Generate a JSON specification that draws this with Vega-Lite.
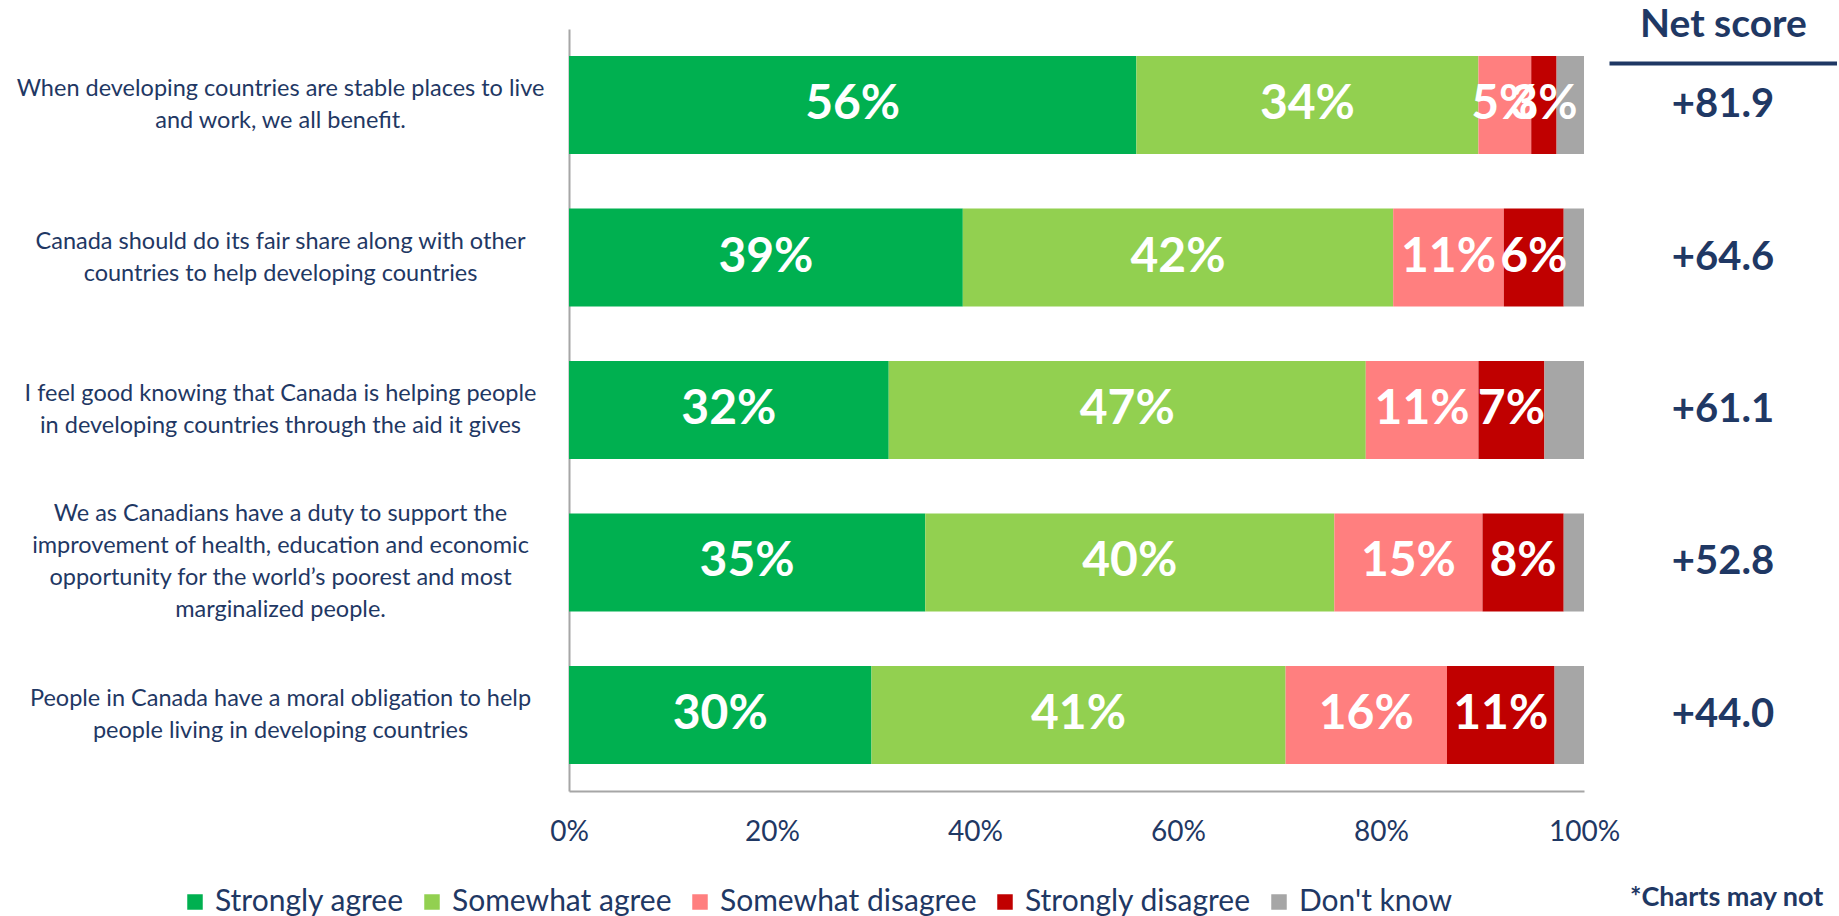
{
  "$schema": "https://vega.github.io/schema/vega-lite/v6.json",
  "background": "white",
  "padding": {"left": 16, "top": 5, "right": 0, "bottom": 0},
  "bounds": "flush",
  "config": {"view": {"stroke": null}, "font": "Lato", "concat": {"spacing": 25}},
  "datasets": {
    "bars": [
      {"q": "When developing countries are stable places to live|and work, we all benefit.", "cat": "Strongly agree", "order": 1, "value": 55.9, "label": "56%"},
      {"q": "When developing countries are stable places to live|and work, we all benefit.", "cat": "Somewhat agree", "order": 2, "value": 33.7, "label": "34%"},
      {"q": "When developing countries are stable places to live|and work, we all benefit.", "cat": "Somewhat disagree", "order": 3, "value": 5.2, "label": "5%"},
      {"q": "When developing countries are stable places to live|and work, we all benefit.", "cat": "Strongly disagree", "order": 4, "value": 2.5, "label": "3%"},
      {"q": "When developing countries are stable places to live|and work, we all benefit.", "cat": "Don't know", "order": 5, "value": 2.7, "label": ""},
      {"q": "Canada should do its fair share along with other|countries to help developing countries", "cat": "Strongly agree", "order": 1, "value": 38.8, "label": "39%"},
      {"q": "Canada should do its fair share along with other|countries to help developing countries", "cat": "Somewhat agree", "order": 2, "value": 42.4, "label": "42%"},
      {"q": "Canada should do its fair share along with other|countries to help developing countries", "cat": "Somewhat disagree", "order": 3, "value": 10.9, "label": "11%"},
      {"q": "Canada should do its fair share along with other|countries to help developing countries", "cat": "Strongly disagree", "order": 4, "value": 5.9, "label": "6%"},
      {"q": "Canada should do its fair share along with other|countries to help developing countries", "cat": "Don't know", "order": 5, "value": 2.0, "label": ""},
      {"q": "I feel good knowing that Canada is helping people|in developing countries through the aid it gives", "cat": "Strongly agree", "order": 1, "value": 31.5, "label": "32%"},
      {"q": "I feel good knowing that Canada is helping people|in developing countries through the aid it gives", "cat": "Somewhat agree", "order": 2, "value": 47.0, "label": "47%"},
      {"q": "I feel good knowing that Canada is helping people|in developing countries through the aid it gives", "cat": "Somewhat disagree", "order": 3, "value": 11.1, "label": "11%"},
      {"q": "I feel good knowing that Canada is helping people|in developing countries through the aid it gives", "cat": "Strongly disagree", "order": 4, "value": 6.5, "label": "7%"},
      {"q": "I feel good knowing that Canada is helping people|in developing countries through the aid it gives", "cat": "Don't know", "order": 5, "value": 3.9, "label": ""},
      {"q": "We as Canadians have a duty to support the|improvement of health, education and economic|opportunity for the world’s poorest and most|marginalized people.", "cat": "Strongly agree", "order": 1, "value": 35.1, "label": "35%"},
      {"q": "We as Canadians have a duty to support the|improvement of health, education and economic|opportunity for the world’s poorest and most|marginalized people.", "cat": "Somewhat agree", "order": 2, "value": 40.3, "label": "40%"},
      {"q": "We as Canadians have a duty to support the|improvement of health, education and economic|opportunity for the world’s poorest and most|marginalized people.", "cat": "Somewhat disagree", "order": 3, "value": 14.6, "label": "15%"},
      {"q": "We as Canadians have a duty to support the|improvement of health, education and economic|opportunity for the world’s poorest and most|marginalized people.", "cat": "Strongly disagree", "order": 4, "value": 8.0, "label": "8%"},
      {"q": "We as Canadians have a duty to support the|improvement of health, education and economic|opportunity for the world’s poorest and most|marginalized people.", "cat": "Don't know", "order": 5, "value": 2.0, "label": ""},
      {"q": "People in Canada have a moral obligation to help|people living in developing countries", "cat": "Strongly agree", "order": 1, "value": 29.8, "label": "30%"},
      {"q": "People in Canada have a moral obligation to help|people living in developing countries", "cat": "Somewhat agree", "order": 2, "value": 40.8, "label": "41%"},
      {"q": "People in Canada have a moral obligation to help|people living in developing countries", "cat": "Somewhat disagree", "order": 3, "value": 15.9, "label": "16%"},
      {"q": "People in Canada have a moral obligation to help|people living in developing countries", "cat": "Strongly disagree", "order": 4, "value": 10.6, "label": "11%"},
      {"q": "People in Canada have a moral obligation to help|people living in developing countries", "cat": "Don't know", "order": 5, "value": 2.9, "label": ""}
    ],
    "net": [
      {"q": "When developing countries are stable places to live|and work, we all benefit.", "score": "+81.9"},
      {"q": "Canada should do its fair share along with other|countries to help developing countries", "score": "+64.6"},
      {"q": "I feel good knowing that Canada is helping people|in developing countries through the aid it gives", "score": "+61.1"},
      {"q": "We as Canadians have a duty to support the|improvement of health, education and economic|opportunity for the world’s poorest and most|marginalized people.", "score": "+52.8"},
      {"q": "People in Canada have a moral obligation to help|people living in developing countries", "score": "+44.0"}
    ]
  },
  "hconcat": [
    {
      "width": 1015,
      "height": 762,
      "data": {"name": "bars"},
      "encoding": {
        "y": {
          "field": "q", "type": "nominal",
          "sort": [
            "When developing countries are stable places to live|and work, we all benefit.",
            "Canada should do its fair share along with other|countries to help developing countries",
            "I feel good knowing that Canada is helping people|in developing countries through the aid it gives",
            "We as Canadians have a duty to support the|improvement of health, education and economic|opportunity for the world’s poorest and most|marginalized people.",
            "People in Canada have a moral obligation to help|people living in developing countries"
          ],
          "scale": {"paddingInner": 0.357, "paddingOuter": 0.177},
          "axis": {
            "title": null, "ticks": false, "grid": false,
            "labelFontSize": 23.5, "labelColor": "#1F3864", "labelAlign": "center",
            "labelPadding": 289, "labelExpr": "split(datum.label, '|')",
            "labelLineHeight": 32, "labelBaseline": "middle", "labelLimit": 700,
            "labelOffset": {"condition": {"test": "indexof(datum.value, 'We as') == 0", "value": -48}, "value": -16},
            "domainColor": "#A6A6A6", "domainWidth": 2
          }
        }
      },
      "layer": [
        {
          "mark": {"type": "bar"},
          "encoding": {
            "x": {
              "field": "value", "type": "quantitative", "stack": "zero",
              "scale": {"domain": [0, 100]},
              "axis": {
                "values": [0, 20, 40, 60, 80, 100], "labelExpr": "datum.value + '%'",
                "labelFontSize": 28, "labelColor": "#1F3864", "labelPadding": 27,
                "ticks": false, "grid": false, "domainColor": "#A6A6A6", "domainWidth": 2,
                "title": null, "labelFlush": false
              }
            },
            "color": {
              "field": "cat", "type": "nominal",
              "scale": {
                "domain": ["Strongly agree", "Somewhat agree", "Somewhat disagree", "Strongly disagree", "Don't know"],
                "range": ["#00B050", "#92D050", "#FF7F7F", "#C00000", "#A6A6A6"]
              },
              "legend": {
                "orient": "none", "direction": "horizontal", "legendX": -389, "legendY": 858,
                "title": null, "labelFontSize": 30, "labelColor": "#1F3864",
                "symbolType": "square", "symbolSize": 240, "symbolStrokeWidth": 0,
                "labelOffset": 5, "columnPadding": 13, "padding": 0, "labelLimit": 400
              }
            },
            "order": {"field": "order", "type": "quantitative"}
          }
        },
        {
          "mark": {"type": "text", "color": "white", "fontSize": 48, "fontWeight": "bold"},
          "encoding": {
            "x": {"field": "value", "type": "quantitative", "stack": "zero", "bandPosition": 0.5},
            "text": {"field": "label"},
            "order": {"field": "order", "type": "quantitative"}
          }
        }
      ]
    },
    {
      "width": 228,
      "height": 762,
      "data": {"name": "net"},
      "title": {
        "text": "*Charts may not", "orient": "bottom", "anchor": "start", "dx": 21, "offset": 94,
        "fontSize": 27, "fontWeight": "bold", "color": "#1F3864", "font": "Lato", "frame": "group"
      },
      "mark": {"type": "text", "fontSize": 40, "fontWeight": "bold", "color": "#1F3864"},
      "encoding": {
        "y": {
          "field": "q", "type": "nominal",
          "sort": [
            "When developing countries are stable places to live|and work, we all benefit.",
            "Canada should do its fair share along with other|countries to help developing countries",
            "I feel good knowing that Canada is helping people|in developing countries through the aid it gives",
            "We as Canadians have a duty to support the|improvement of health, education and economic|opportunity for the world’s poorest and most|marginalized people.",
            "People in Canada have a moral obligation to help|people living in developing countries"
          ],
          "scale": {"paddingInner": 0.357, "paddingOuter": 0.177},
          "axis": null
        },
        "x": {
          "datum": 0, "type": "quantitative",
          "scale": {"domain": [-1, 1]},
          "axis": {
            "orient": "top", "offset": -34, "domain": true, "domainColor": "#1F3864", "domainWidth": 4,
            "ticks": false, "labels": false, "grid": false,
            "title": "Net score", "titleFontSize": 39, "titleFontWeight": "bold", "titleColor": "#1F3864",
            "titlePadding": 19
          }
        },
        "text": {"field": "score"}
      }
    }
  ]
}
